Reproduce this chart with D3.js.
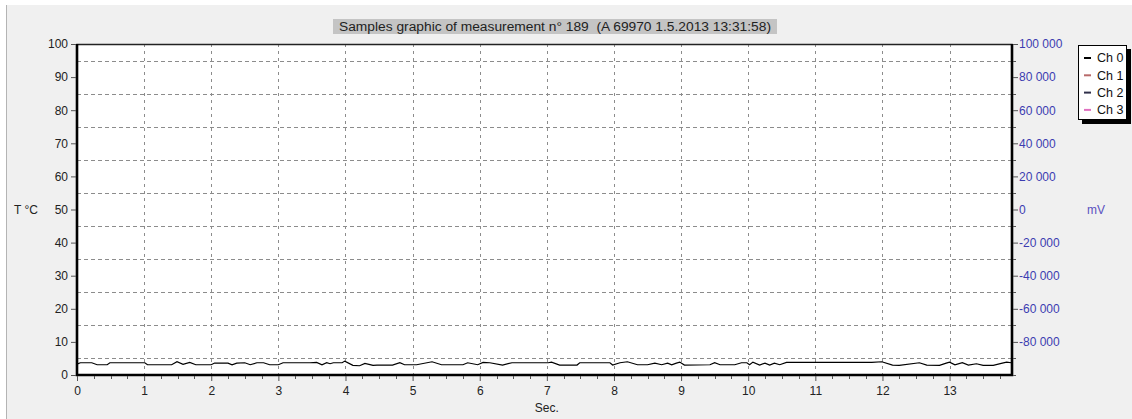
<!DOCTYPE html>
<html>
<head>
<meta charset="utf-8">
<script src="https://cdn.jsdelivr.net/npm/d3@7"></script>
<style>
    html, body { margin: 0; padding: 0; background: #ffffff; }
    svg { display: block; font-family: "Liberation Sans", Arial, sans-serif; }
</style>
</head>
<body>
<svg id="chart" width="1132" height="419"></svg>
<script>
// sample times (s) and Ch 0 temperature (°C)
var sampleTimes = [0.0, 0.05, 0.22, 0.30, 0.45, 0.49, 1.01, 1.05, 1.41, 1.49, 1.58, 1.68, 1.77, 2.0, 2.05, 2.25, 2.31, 2.38, 2.5, 2.58,
    2.68, 2.78, 2.87, 3.0, 3.07, 3.47, 3.57, 3.65, 3.72, 3.77, 3.82, 3.95, 3.99, 4.11, 4.21, 4.29, 4.41, 4.47, 4.7, 4.81,
    4.88, 5.06, 5.29, 5.43, 5.75, 5.82, 5.97, 6.05, 6.15, 6.34, 6.48, 7.02, 7.07, 7.19, 7.45, 7.49, 7.94, 7.98, 8.09, 8.2,
    8.35, 8.5, 8.61, 8.71, 8.8, 8.86, 8.93, 8.98, 9.05, 9.43, 9.5, 9.58, 9.8, 9.9, 9.98, 10.02, 10.07, 10.17, 10.25, 10.32,
    10.39, 10.47, 10.57, 11.84, 11.99, 12.15, 12.25, 12.55, 12.66, 12.85, 12.95, 13.0, 13.08, 13.19, 13.28, 13.4, 13.5, 13.65, 13.77, 13.85,
    13.92];
var ch0Temps = [3.3, 3.7, 3.7, 3.1, 3.1, 3.7, 3.7, 3.1, 3.1, 4.0, 3.2, 3.8, 3.1, 3.1, 3.6, 3.6, 3.1, 3.6, 3.7, 3.1,
    3.7, 3.7, 3.1, 3.1, 3.7, 3.7, 3.8, 3.1, 3.7, 3.4, 3.7, 3.7, 4.2, 2.9, 2.8, 3.5, 2.9, 3.0, 3.0, 3.7,
    3.1, 3.1, 4.0, 3.1, 3.1, 3.7, 3.1, 3.8, 3.7, 3.0, 3.7, 3.7, 3.9, 3.0, 3.0, 3.7, 3.7, 3.0, 3.7, 4.0,
    3.1, 3.1, 3.6, 3.1, 3.6, 3.1, 3.6, 3.9, 3.0, 3.1, 3.7, 3.1, 3.1, 3.7, 3.7, 3.1, 3.9, 3.0, 3.6, 3.0,
    3.6, 3.1, 3.8, 3.8, 4.0, 3.0, 2.9, 3.7, 3.0, 2.9, 3.6, 3.9, 3.1, 3.7, 3.0, 3.4, 2.9, 2.9, 3.5, 3.9,
    3.7];

var tempTicks = [0, 10, 20, 30, 40, 50, 60, 70, 80, 90, 100];
var tempGrid = [5, 15, 25, 35, 45, 55, 65, 75, 85, 95];
var mvTicks = [100000, 80000, 60000, 40000, 20000, 0, -20000, -40000, -60000, -80000];
var mvMinorTicks = [90000, 70000, 50000, 30000, 10000, -10000, -30000, -50000, -70000, -90000, -100000];
var secTicks = [0, 1, 2, 3, 4, 5, 6, 7, 8, 9, 10, 11, 12, 13];
var channels = ["Ch 0", "Ch 1", "Ch 2", "Ch 3"];
var channelColors = ["#000000", "#b86a6a", "#30304a", "#e070c0"];
var titleText = "Samples graphic of measurement n\u00b0 189  (A 69970 1.5.2013 13:31:58)";

var W = 1132, H = 419;
var m = { top: 44, right: 120, bottom: 44, left: 77 };
var pw = 1012 - m.left, ph = 375 - m.top;

var svg = d3.select("#chart");

// window panel
svg.append("rect")
    .attr("x", 6).attr("y", 5)
    .attr("width", W - 6).attr("height", H - 5)
    .attr("fill", "#f0f0f0");
svg.append("line")
    .attr("x1", 6.5).attr("x2", 6.5)
    .attr("y1", 5).attr("y2", H)
    .attr("stroke", "#b4b4b4");

var x = d3.scaleLinear().domain([0, 13.93]).range([m.left, m.left + pw]);
var yT = d3.scaleLinear().domain([0, 100]).range([m.top + ph, m.top]);
var yMv = d3.scaleLinear().domain([-100000, 100000]).range([m.top + ph, m.top]);

// plot area
svg.append("rect")
    .attr("x", m.left).attr("y", m.top)
    .attr("width", pw).attr("height", ph)
    .attr("fill", "#ffffff");

// grid
var grid = svg.append("g").attr("class", "grid");
grid.selectAll(".hgrid")
    .data(tempGrid)
    .enter()
    .append("line")
    .attr("x1", m.left).attr("x2", m.left + pw)
    .attr("y1", function(d) { return Math.round(yT(d)) + 0.5; })
    .attr("y2", function(d) { return Math.round(yT(d)) + 0.5; })
    .attr("stroke", "#8c8c8c")
    .attr("stroke-dasharray", "4,3");
grid.selectAll(".vgrid")
    .data(secTicks.slice(1))
    .enter()
    .append("line")
    .attr("x1", function(d) { return Math.round(x(d)) + 0.5; })
    .attr("x2", function(d) { return Math.round(x(d)) + 0.5; })
    .attr("y1", m.top).attr("y2", m.top + ph)
    .attr("stroke", "#8c8c8c")
    .attr("stroke-dasharray", "3,4");

// Ch 0 line
var samples = sampleTimes.map(function(t, i) { return [t, ch0Temps[i]]; });
svg.append("path")
    .datum(samples)
    .attr("fill", "none")
    .attr("stroke", channelColors[0])
    .attr("stroke-width", 1.2)
    .attr("d", d3.line()
        .x(function(d) { return x(d[0]); })
        .y(function(d) { return yT(d[1]); }));

// frame
svg.append("rect")
    .attr("x", m.left).attr("y", m.top + 0.5)
    .attr("width", pw).attr("height", ph - 0.5)
    .attr("fill", "none")
    .attr("stroke", "#222")
    .attr("stroke-width", 1.5);
svg.append("path")
    .attr("d", "M" + (m.left) + "," + (m.top) + "V" + (m.top + ph) + "H" + (m.left + pw) + "V" + m.top)
    .attr("fill", "none")
    .attr("stroke", "#000")
    .attr("stroke-width", 2.6);

// left axis
var leftAxis = svg.append("g")
    .attr("transform", "translate(" + (m.left - 1) + ",0)")
    .call(d3.axisLeft(yT).tickValues(tempTicks).tickSize(5).tickPadding(3));
leftAxis.select(".domain").remove();
leftAxis.selectAll("line").attr("stroke", "#555");
leftAxis.selectAll("text")
    .attr("fill", "#222")
    .style("font-size", "12px")
    .style("font-family", "'Liberation Sans', Arial, sans-serif");

// right axis
function mvFormat(d) {
    return d3.format(",")(d).replace(/,/g, " ").replace("\u2212", "-");
}
var rightAxis = svg.append("g")
    .attr("transform", "translate(" + (m.left + pw + 1) + ",0)")
    .call(d3.axisRight(yMv).tickValues(mvTicks).tickSize(5).tickPadding(1).tickFormat(mvFormat));
rightAxis.select(".domain").remove();
rightAxis.selectAll("line").attr("stroke", "#555");
rightAxis.selectAll("text")
    .attr("fill", "#3c3cb0")
    .style("font-size", "12px")
    .style("font-family", "'Liberation Sans', Arial, sans-serif");
svg.append("g")
    .selectAll("line")
    .data(mvMinorTicks)
    .enter()
    .append("line")
    .attr("x1", m.left + pw + 1).attr("x2", m.left + pw + 4)
    .attr("y1", function(d) { return Math.round(yMv(d)) + 0.5; })
    .attr("y2", function(d) { return Math.round(yMv(d)) + 0.5; })
    .attr("stroke", "#555");

// bottom axis
var bottomAxis = svg.append("g")
    .attr("transform", "translate(0," + (m.top + ph + 1) + ")")
    .call(d3.axisBottom(x).tickValues(secTicks).tickSize(5).tickPadding(5));
bottomAxis.select(".domain").remove();
bottomAxis.selectAll("line").attr("stroke", "#555");
bottomAxis.selectAll("text")
    .attr("fill", "#222")
    .style("font-size", "12px")
    .style("font-family", "'Liberation Sans', Arial, sans-serif");
svg.append("g")
    .selectAll("line")
    .data(d3.range(1, 56).map(function(i) { return i * 0.25; }).filter(function(d) { return d % 1 !== 0; }))
    .enter()
    .append("line")
    .attr("x1", function(d) { return Math.round(x(d)) + 0.5; })
    .attr("x2", function(d) { return Math.round(x(d)) + 0.5; })
    .attr("y1", m.top + ph + 1).attr("y2", m.top + ph + 4)
    .attr("stroke", "#555");

// axis titles
svg.append("text")
    .attr("x", 14).attr("y", yT(50) + 4)
    .attr("fill", "#222")
    .style("font-size", "12px")
    .text("T \u00b0C");
svg.append("text")
    .attr("x", 1087).attr("y", yT(50) + 4)
    .attr("fill", "#5a50c0")
    .style("font-size", "12px")
    .text("mV");
svg.append("text")
    .attr("x", x(7)).attr("y", 412)
    .attr("text-anchor", "middle")
    .attr("fill", "#222")
    .style("font-size", "12px")
    .text("Sec.");

// title
var titleG = svg.append("g");
titleG.append("rect")
    .attr("x", 333).attr("y", 19)
    .attr("width", 444).attr("height", 15)
    .attr("fill", "#c4c4c4");
titleG.append("text")
    .attr("x", 555).attr("y", 31)
    .attr("text-anchor", "middle")
    .attr("fill", "#222")
    .attr("textLength", 432)
    .attr("lengthAdjust", "spacingAndGlyphs")
    .style("font-size", "12.5px")
    .style("white-space", "pre")
    .text(titleText);

// legend
var legend = svg.append("g").attr("transform", "translate(1078,45)");
legend.append("rect")
    .attr("x", 4).attr("y", 4)
    .attr("width", 49).attr("height", 75)
    .attr("fill", "#000");
legend.append("rect")
    .attr("x", 0.5).attr("y", 0.5)
    .attr("width", 48).attr("height", 74)
    .attr("fill", "#fff")
    .attr("stroke", "#000");
var legendGroup = legend.selectAll(".legendGroup")
    .data(channels)
    .enter()
    .append("g")
    .attr("transform", function(d, i) {
        return "translate(0," + (13 + i * 17.3) + ")";
    });
legendGroup.append("line")
    .attr("x1", 6).attr("x2", 13)
    .attr("y1", 0).attr("y2", 0)
    .attr("stroke", function(d, i) { return channelColors[i]; })
    .attr("stroke-width", 2);
legendGroup.append("text")
    .attr("x", 19)
    .attr("y", 0)
    .attr("dy", ".35em")
    .attr("fill", "#111")
    .style("font-size", "12.5px")
    .text(function(d) { return d; });
</script>
</body>
</html>
